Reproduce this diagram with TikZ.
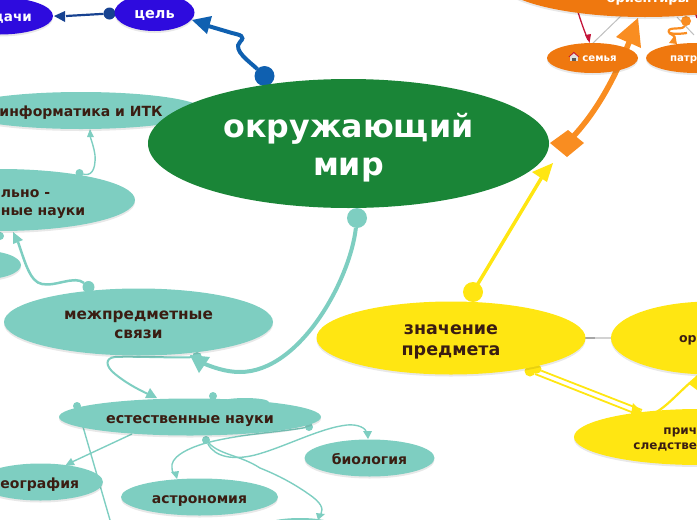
\documentclass[tikz,border=0pt]{standalone}
\usepackage{fontspec}
\setmainfont{DejaVu Sans}
\usetikzlibrary{shapes.geometric,arrows.meta,shadows}
\definecolor{gr}{HTML}{1A8537}
\definecolor{tl}{HTML}{7ECEC1}
\definecolor{yl}{HTML}{FFE612}
\definecolor{or}{HTML}{EF780F}
\definecolor{orl}{HTML}{F98D21}
\definecolor{bl}{HTML}{2E0BDE}
\definecolor{bll}{HTML}{0F60B0}
\definecolor{dbl}{HTML}{174291}
\definecolor{dk}{HTML}{3A1D12}
\definecolor{rd}{HTML}{C4153A}
\newcommand{\tp}[1]{\rule{0pt}{\dimexpr.7\baselineskip+#1\relax}\vrule height 0pt depth .3\baselineskip width 0pt\relax}
\newcommand{\lbox}[2][6pt]{\makebox[0pt][l]{\tp{#1}#2}}
\newcommand{\rbox}[2][4pt]{\makebox[0pt][r]{\tp{#1}#2}}
\tikzset{x=1pt,y=-1pt,
 shad/.style={drop shadow={shadow xshift=0pt,shadow yshift=-2pt,fill=black,opacity=.09}},
 oval/.style={ellipse,inner sep=0pt,outer sep=0pt,align=center,font=\bfseries},
 tlo/.style={oval,shad,fill=tl,text=dk},
 ylo/.style={oval,shad,fill=yl,text=dk},
 oro/.style={oval,shad,fill=or,text=white},
 blo/.style={oval,shad,fill=bl,text=white},
 dotm/.style={circle,inner sep=0pt,outer sep=0pt}}
\begin{document}
\begin{tikzpicture}
\useasboundingbox (0,0) rectangle (697,520);
\clip (0,0) rectangle (697,520);
% blue
\node[dotm,fill=bll,minimum size=20pt] (dcel) at (264.5,76) {};
\node[dotm,fill=dbl,minimum size=12pt] (dcl2) at (109.5,13.5) {};
\draw[bll,line width=4pt] (dcel) .. controls (250,62) and (232,50) .. (240,42) .. controls (246,36) and (240,35) .. (232,33) -- (205,25);
\fill[bll] (192,20) -- (212,16) -- (207,34) -- cycle;
\draw[dbl,line width=2.2pt] (dcl2) -- (66,16);
\fill[dbl] (54,16) -- (65,11) -- (65,22) -- cycle;
% orange
\draw[orl,line width=5.5pt] (567,143) .. controls (590,120) and (610,90) .. (630,40);
\fill[orl] (638,18) -- (641,48) -- (630,43) -- (625,41) -- (616,37) -- cycle;
\fill[orl] (550,143) -- (568,130) -- (584,143) -- (567,157) -- cycle;
\draw[gray!50,line width=1pt] (592,44) -- (622,15);
\draw[gray!50,line width=1pt] (677,17) -- (694,35);
\draw[rd,line width=1.3pt] (695,12) -- (697,18);
\node[dotm,fill=orl,minimum size=10pt] (dsq) at (686,21) {};
\draw[orl,line width=2.2pt,line join=round] (dsq) .. controls (684,30) and (672,27) .. (669,30) .. controls (666,35) and (680,34) .. (687,33);
\draw[orl,line width=2.2pt] (669,33) .. controls (672,35) and (675,35) .. (675,40);
\fill[orl] (677,44) -- (669,43) -- (675,35) -- cycle;
\draw[rd,line width=1.3pt] (578,12) .. controls (582,25) and (586,35) .. (588,40);
\fill[rd] (589.5,43) -- (585,35) -- (591,34) -- cycle;
% yellow
\draw[yl,line width=3.5pt] (473,292) -- (545,172);
\fill[yl] (553,163) -- (532,172) -- (547,182) -- cycle;
\node[dotm,fill=yl,minimum size=20pt] (dz) at (473,292) {};
\draw[gray!35,line width=1.3pt] (585,338) -- (611,338);
\draw[gray!70,line width=1.3pt] (585,338) -- (595,338);
\node[dotm,fill=yl,minimum size=11pt] (dy2) at (530,371) {};
\node[dotm,fill=yl,minimum size=9pt] (dy3) at (537,369) {};
\draw[yl,line width=1.8pt] (dy3) -- (642,410);
\draw[yl,line width=1.8pt] (535,374) -- (634,413);
\fill[yl] (633,403) -- (644,414) -- (631,414) -- cycle;
\draw[yl,line width=2.2pt] (650,415) .. controls (665,410) and (680,390) .. (697,377);
\fill[yl] (697,375) -- (689,384) -- (697,390) -- cycle;
% teal
\node[dotm,fill=tl,minimum size=20pt] (dt) at (357,218) {};
\draw[tl,line width=4pt] (dt) .. controls (350,280) and (300,372) .. (240,372) .. controls (225,372) and (212,367) .. (200,362);
\fill[tl] (190,355) -- (210,357) -- (199,373) -- cycle;
\node[dotm,fill=tl,minimum size=12pt] (dm) at (88.5,287) {};
\draw[tl,line width=2.5pt] (dm) .. controls (75,275) and (55,287) .. (42,284) .. controls (30,282) and (25,262) .. (18,242);
\fill[tl] (13,232) -- (23,240) -- (13,244) -- cycle;
\node[dotm,fill=tl,minimum size=8pt] (dm0) at (0,236) {};
\node[dotm,fill=tl,minimum size=8pt] (dk) at (79.5,173) {};
\draw[tl,line width=1.4pt] (dk) .. controls (90,176) and (96,172) .. (95,155) .. controls (94,148) and (92,142) .. (90,136);
\fill[tl] (90,129) -- (94,137) -- (87,137) -- cycle;
\node[dotm,fill=tl,minimum size=10pt] (dsv) at (197,357) {};
\draw[tl,line width=2pt] (dsv) .. controls (170,358) and (130,356) .. (115,357) .. controls (105,358) and (105,366) .. (115,374) .. controls (125,382) and (135,388) .. (150,395);
\fill[tl] (150,388) -- (157,398) -- (145,398) -- cycle;
\node[dotm,fill=tl,minimum size=8pt] (de1) at (77,406) {};
\node[dotm,fill=tl,minimum size=8pt] (de2) at (213,396) {};
\node[dotm,fill=tl,minimum size=8pt] (de3) at (309,427) {};
\node[dotm,fill=tl,minimum size=8pt] (de4) at (206,440) {};
\fill[tl] (245,402) ellipse (24 and 4);
\draw[tl,line width=1.4pt] (de1) -- (110,520);
\draw[tl,line width=1.4pt] (132,434) -- (72,462);
\fill[tl] (65,466) -- (71,458) -- (75,465) -- cycle;
\draw[tl,line width=1.4pt] (de3) .. controls (280,432) and (240,434) .. (206,443) .. controls (185,449) and (170,458) .. (172,468) .. controls (172,472) and (174,474) .. (175,474);
\fill[tl] (177,479) -- (171,472) -- (179,471) -- cycle;
\draw[tl,line width=1.4pt] (de4) .. controls (220,455) and (240,455) .. (260,468) .. controls (285,478) and (300,488) .. (310,495) .. controls (320,502) and (324,508) .. (321,514);
\fill[tl] (318,520) -- (316,513) -- (325,514) -- cycle;
\draw[tl,line width=1.4pt] (de4) .. controls (215,458) and (235,460) .. (255,455) .. controls (285,447) and (320,428) .. (347,425) .. controls (358,424) and (366,428) .. (367,433);
\fill[tl] (368,439) -- (363,431) -- (372,431) -- cycle;
% nodes
\node[blo,minimum width=80pt,minimum height=37pt,font=\bfseries\fontsize{14.5}{17}\selectfont] (cel) at (154.5,12.5) {\tp{6pt}цель};
\node[blo,minimum width=106pt,minimum height=37pt,font=\bfseries\fontsize{13.5}{16}\selectfont] (zad) at (0,16) {\lbox[4pt]{\hspace*{-7pt}дачи}};
\node[tlo,minimum width=246pt,minimum height=37pt,font=\bfseries\fontsize{14}{17}\selectfont] (inf) at (81,110.5) {\tp{6pt}информатика и ИТК};
\node[tlo,minimum width=270pt,minimum height=62pt,font=\bfseries\fontsize{14}{18}\selectfont] (ped) at (0,200) {\lbox{\hspace*{1pt}льно -}\\\lbox[0pt]{\hspace*{1pt}ные науки}};
\node[tlo,minimum width=80pt,minimum height=29pt] (lft) at (-19,265) {};
\node[tlo,minimum width=269pt,minimum height=67pt,font=\bfseries\fontsize{15.3}{19.5}\selectfont] (mez) at (138.5,322) {\tp{6pt}межпредметные\\\strut связи};
\node[ylo,minimum width=269pt,minimum height=73pt,font=\bfseries\fontsize{17.5}{21}\selectfont] (zn) at (451,338) {\tp{6pt}значение\\\strut предмета};
\node[ylo,minimum width=200pt,minimum height=73pt,font=\bfseries\fontsize{12.5}{15}\selectfont] (orr) at (711,338) {\lbox[2pt]{\hspace*{-32pt}ор}};
\node[ylo,minimum width=250pt,minimum height=56pt,font=\bfseries\fontsize{12}{15}\selectfont] (pr) at (699,437) {\rbox{прич\hspace*{2pt}}\\\rbox[0pt]{следстве\hspace*{2pt}}};
\node[tlo,minimum width=262pt,minimum height=37pt,font=\bfseries\fontsize{14.3}{17}\selectfont] (es) at (190,417) {\tp{6pt}естественные науки};
\node[tlo,minimum width=130pt,minimum height=37pt,font=\bfseries\fontsize{14}{17}\selectfont] (bio) at (369.5,458) {\tp{6pt}биология};
\node[tlo,minimum width=157pt,minimum height=37pt,font=\bfseries\fontsize{14}{17}\selectfont] (ast) at (199.5,497) {\tp{6pt}астрономия};
\node[tlo,minimum width=125pt,minimum height=37pt,font=\bfseries\fontsize{14}{17}\selectfont] (geo) at (40.5,482) {\lbox{\hspace*{-40pt}еография}};
\node[tlo,minimum width=80pt,minimum height=20pt] (bt) at (300,528) {};
\node[oro,minimum width=292pt,minimum height=74pt,font=\bfseries\fontsize{13}{15}\selectfont] (ori) at (645,-20) {\hspace*{6pt}\raisebox{-22pt}[0pt][0pt]{ориентиры}};
\node[oro,minimum width=91pt,minimum height=30pt,font=\bfseries\fontsize{10.2}{12}\selectfont] (sem) at (592.5,58) {\tp{2pt}\tikz[x=1pt,y=1pt,baseline=0pt]{\fill[white!88!black] (1.5,0) rectangle (9.5,5);\fill[rd] (0,4.5) -- (5.5,9.5) -- (11,4.5) -- (9.5,4.5) -- (5.5,8) -- (1.5,4.5) -- cycle;\fill[white!88!black] (1.5,4.5) -- (5.5,8) -- (9.5,4.5) -- cycle;\fill[gray!70!black] (4,0) rectangle (7.5,3.5);}\hspace{3pt}семья};
\node[oro,minimum width=100pt,minimum height=30pt,font=\bfseries\fontsize{10.2}{12}\selectfont] (pat) at (696,58) {\lbox[2pt]{\hspace*{-26pt}патр}};
\node[oval,fill=gr,text=white,minimum width=401pt,minimum height=129pt,font=\bfseries\fontsize{31.7}{38}\selectfont] (main) at (348.5,143.5) {\tp{10pt}окружающий\\\strut мир};
\end{tikzpicture}
\end{document}
